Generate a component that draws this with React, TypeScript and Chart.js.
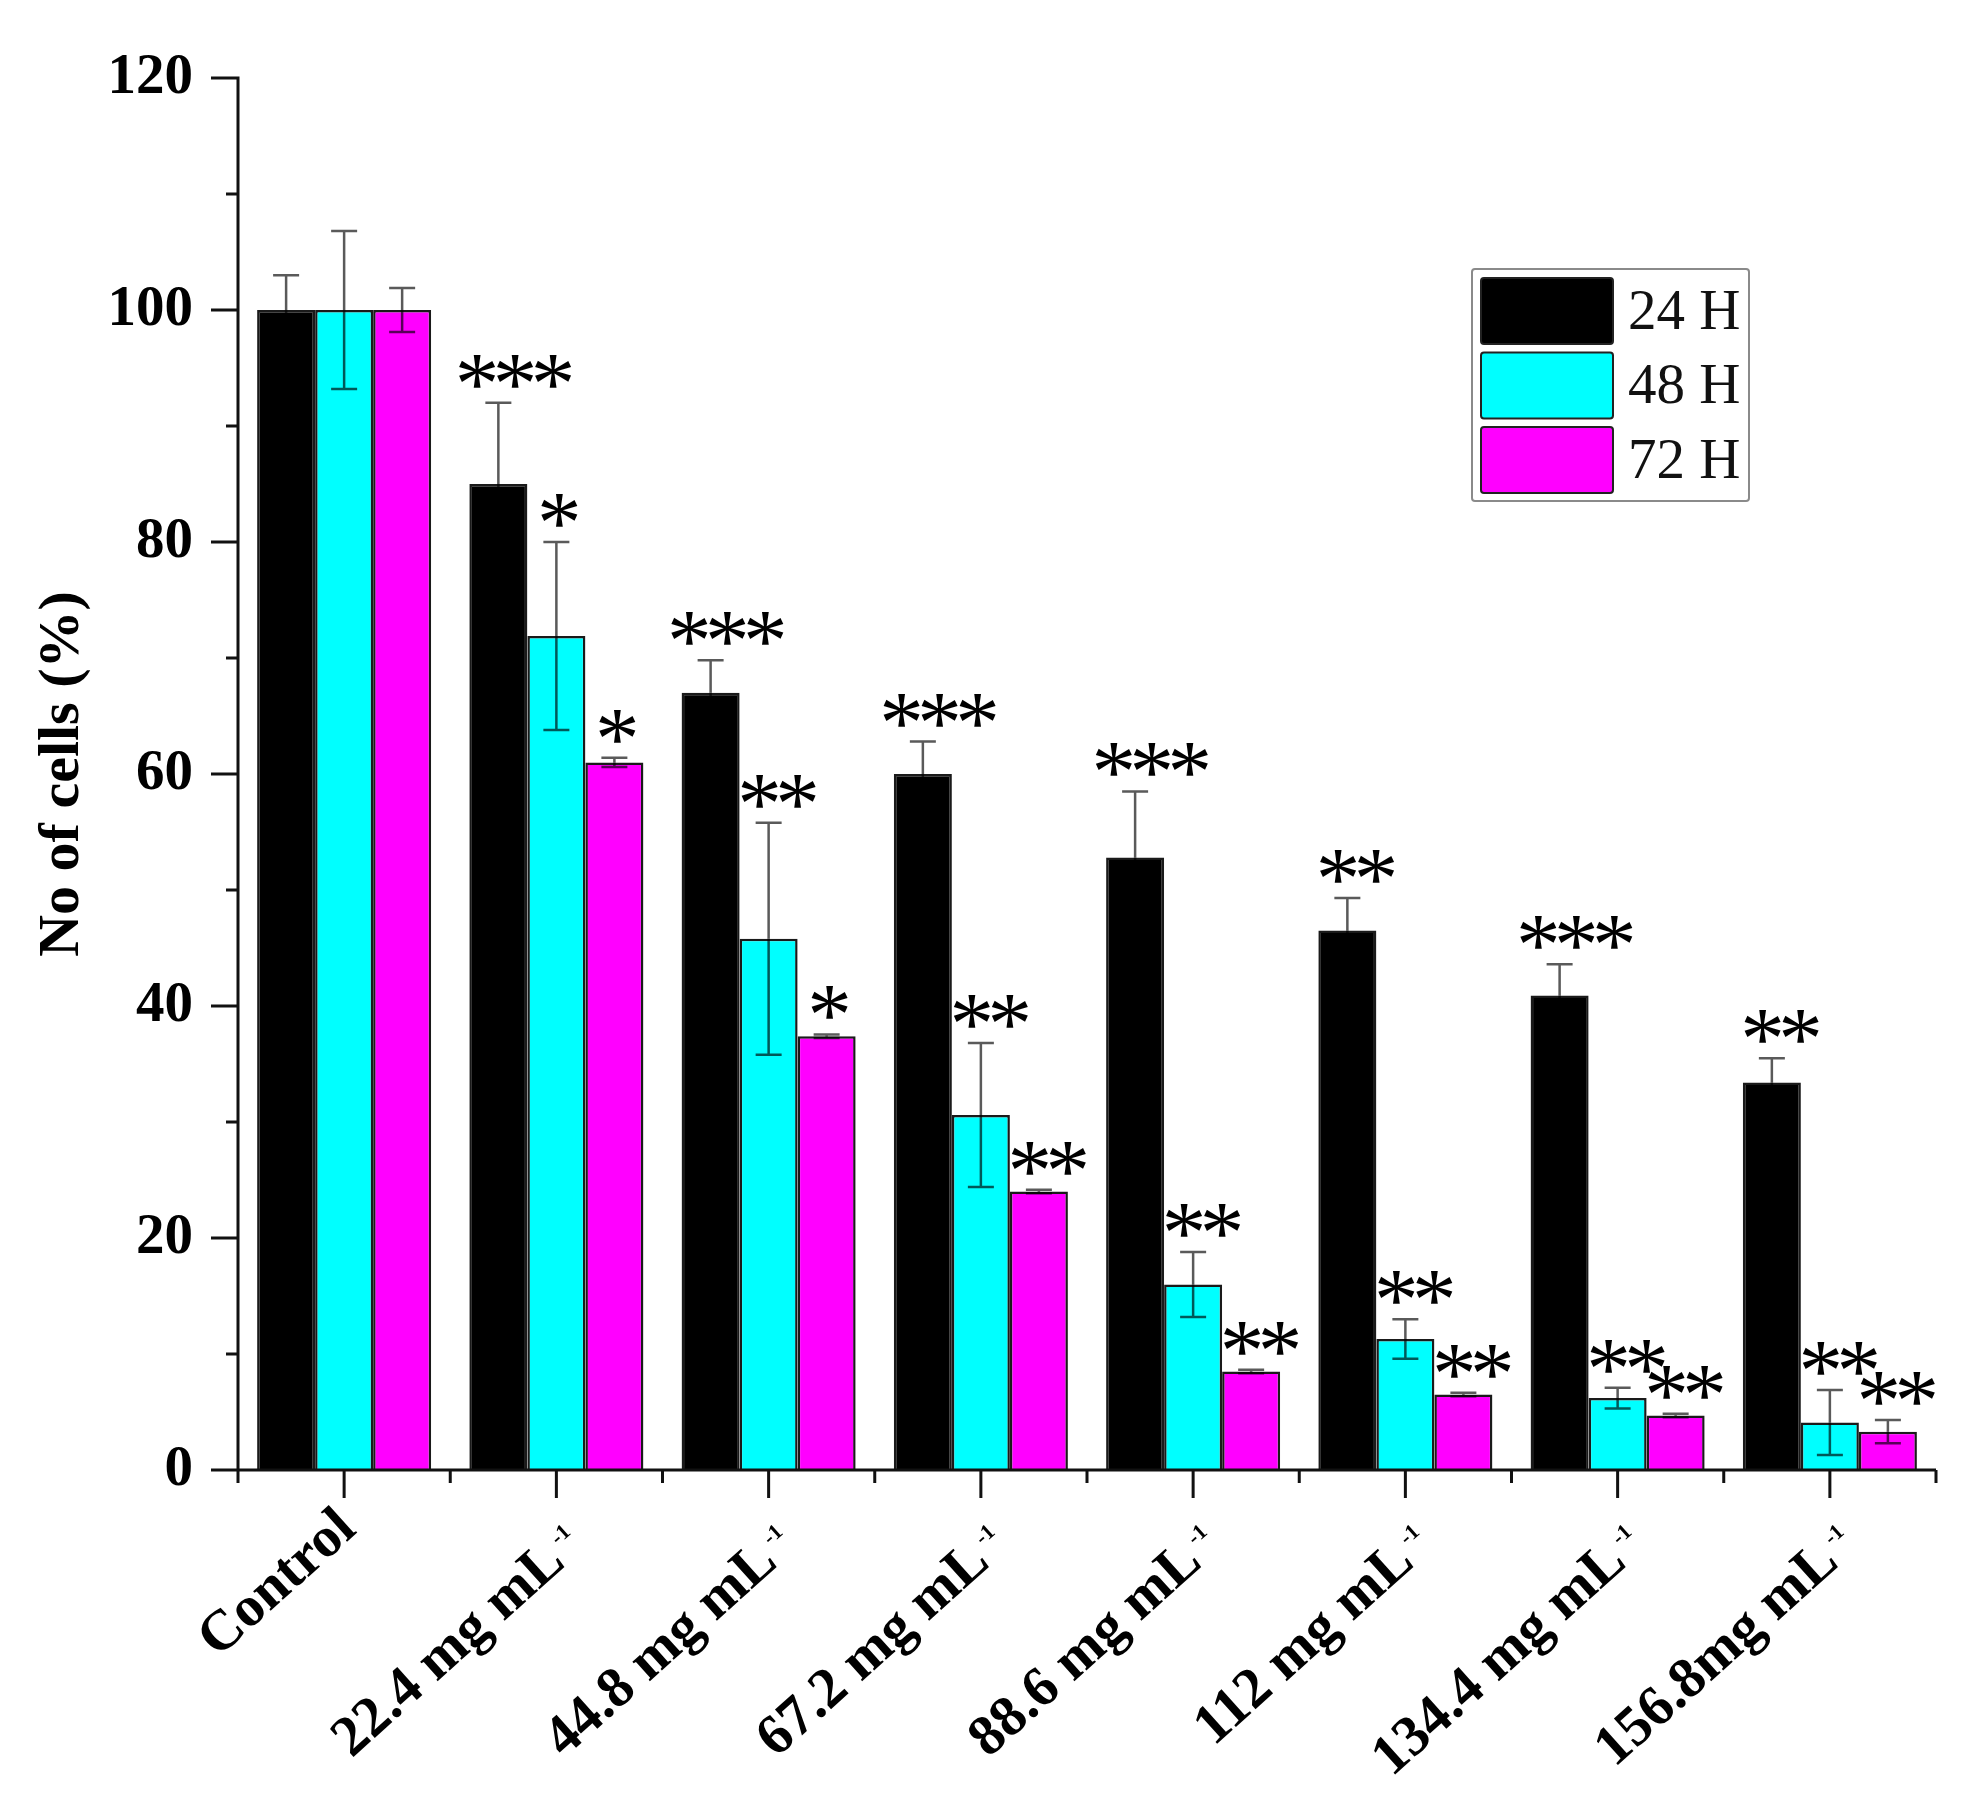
import React, { useEffect, useRef } from 'react';
import { Chart, registerables } from 'chart.js';

Chart.register(...registerables);

// ---------- data ----------
const categories = [
  'Control',
  '22.4 mg mL⁻¹',
  '44.8 mg mL⁻¹',
  '67.2 mg mL⁻¹',
  '88.6 mg mL⁻¹',
  '112 mg mL⁻¹',
  '134.4 mg mL⁻¹',
  '156.8mg mL⁻¹',
];
const seriesLabels = ['24 H', '48 H', '72 H'];
const seriesColors = ['#000000', '#00FFFF', '#FF00FF'];

const values24 = [100, 85.0, 67.0, 60.0, 52.8, 46.5, 40.9, 33.4];
const values48 = [100, 71.9, 45.8, 30.6, 16.0, 11.3, 6.2, 4.1];
const values72 = [100, 61.0, 37.4, 24.0, 8.5, 6.5, 4.7, 3.3];

const errors24 = [3.0, 7.0, 2.8, 2.8, 5.7, 2.8, 2.7, 2.1];
const errors48 = [6.8, 8.1, 10.0, 6.2, 2.8, 1.7, 0.9, 2.8];
const errors72 = [1.9, 0.4, 0.15, 0.15, 0.15, 0.15, 0.15, 1.0];

const stars24 = ['', '***', '***', '***', '***', '**', '***', '**'];
const stars48 = ['', '*', '**', '**', '**', '**', '**', '**'];
const stars72 = ['', '*', '*', '**', '**', '**', '**', '**'];

const yMin = 0;
const yMax = 120;
const yMajorStep = 20;
const yMinorStep = 10;
const yTitle = 'No of cells (%)';

// ---------- styling ----------
const SERIF = "'Liberation Serif', 'Times New Roman', serif";
const STAR_FONT = "'Liberation Serif', 'Times New Roman', serif";
const W = 1966;
const H = 1816;
const LABEL_ANGLE = (42 * Math.PI) / 180;

export default function App() {
  const ref = useRef<HTMLCanvasElement>(null);

  useEffect(() => {
    const canvas = ref.current;
    if (!canvas) return;
    const errs = [errors24, errors48, errors72];
    const stars = [stars24, stars48, stars72];

    const errorPlugin = {
      id: 'errorBarsStars',
      afterDatasetsDraw(chart: any) {
        const ctx = chart.ctx;
        const ys = chart.scales.y;
        ctx.save();
        ctx.font = `100px ${STAR_FONT}`;
        const m0 = ctx.measureText('*');
        const h0 = m0.actualBoundingBoxAscent + m0.actualBoundingBoxDescent;
        const starSize = (100 * 33) / h0;
        ctx.font = `${starSize}px ${STAR_FONT}`;
        const sm = ctx.measureText('*');
        const pitch = 38;
        chart.data.datasets.forEach((ds: any, d: number) => {
          const meta = chart.getDatasetMeta(d);
          meta.data.forEach((bar: any, i: number) => {
            const v = ds.data[i];
            const e = errs[d][i];
            const x = bar.x;
            const yT = ys.getPixelForValue(v + e);
            const yB = ys.getPixelForValue(v - e);
            const yV = ys.getPixelForValue(v);
            const cap = 13;
            ctx.lineWidth = 2.5;
            ctx.strokeStyle = '#5a5a5a';
            ctx.beginPath();
            ctx.moveTo(x, yT);
            ctx.lineTo(x, yV);
            ctx.moveTo(x - cap, yT);
            ctx.lineTo(x + cap, yT);
            ctx.stroke();
            ctx.strokeStyle = 'rgba(0,0,0,0.65)';
            ctx.beginPath();
            ctx.moveTo(x, yV);
            ctx.lineTo(x, yB);
            ctx.moveTo(x - cap, yB);
            ctx.lineTo(x + cap, yB);
            ctx.stroke();

            const s = stars[d][i];
            if (s) {
              const n = s.length;
              const cx = x + 3 + (n - 1) * 7;
              const bottom = yT - 15;
              ctx.font = `${starSize}px ${STAR_FONT}`;
              ctx.fillStyle = '#000';
              ctx.textAlign = 'left';
              ctx.textBaseline = 'alphabetic';
              const gw = sm.actualBoundingBoxRight + sm.actualBoundingBoxLeft;
              for (let k = 0; k < n; k++) {
                const gx = cx + (k - (n - 1) / 2) * pitch;
                const tx = gx - gw / 2 + sm.actualBoundingBoxLeft;
                ctx.fillText('*', tx, bottom - sm.actualBoundingBoxDescent);
              }
            }
          });
        });
        ctx.restore();
      },
    };

    const axesPlugin = {
      id: 'originAxes',
      afterDraw(chart: any) {
        const ctx = chart.ctx;
        const xs = chart.scales.x;
        const ys = chart.scales.y;
        const ca = chart.chartArea;
        const y0 = ys.getPixelForValue(yMin);
        const yTop = ys.getPixelForValue(yMax);
        ctx.save();
        ctx.strokeStyle = '#111';
        ctx.lineWidth = 3;
        ctx.lineCap = 'butt';
        ctx.beginPath();
        ctx.moveTo(ca.left, yTop - 1.5);
        ctx.lineTo(ca.left, y0 + 1.5);
        ctx.moveTo(ca.left - 1.5, y0);
        ctx.lineTo(ca.right, y0);
        for (let v = yMin; v <= yMax + 1e-9; v += yMinorStep) {
          const py = ys.getPixelForValue(v);
          const major = Math.abs(v / yMajorStep - Math.round(v / yMajorStep)) < 1e-6;
          const len = major ? 27 : 12;
          ctx.moveTo(ca.left, py);
          ctx.lineTo(ca.left - len, py);
        }
        const n = chart.data.labels.length;
        for (let i = 0; i < n; i++) {
          const px = xs.getPixelForValue(i);
          ctx.moveTo(px, y0);
          ctx.lineTo(px, y0 + 28);
        }
        for (let i = 0; i <= n; i++) {
          const px = ca.left + ((ca.right - ca.left) * i) / n;
          ctx.moveTo(px, y0);
          ctx.lineTo(px, y0 + 13);
        }
        ctx.stroke();

        // category labels (rotated, with superscript)
        ctx.fillStyle = '#000';
        chart.data.labels.forEach((lab: string, i: number) => {
          const px = xs.getPixelForValue(i);
          let main = lab;
          let sup = '';
          if (lab.endsWith('⁻¹')) {
            main = lab.slice(0, -2);
            sup = '-1';
          }
          ctx.save();
          ctx.translate(px + 14, y0 + 62);
          ctx.rotate(-LABEL_ANGLE);
          ctx.textAlign = 'left';
          ctx.textBaseline = 'alphabetic';
          const base = sup ? 22 : 0;
          ctx.font = `bold 57px ${SERIF}`;
          const wm = ctx.measureText(main).width;
          let ws = 0;
          const gap = 6;
          if (sup) {
            ctx.font = `bold 22px ${SERIF}`;
            ws = ctx.measureText(sup).width + gap;
          }
          ctx.font = `bold 57px ${SERIF}`;
          ctx.fillText(main, -(wm + ws), base);
          if (sup) {
            ctx.font = `bold 22px ${SERIF}`;
            ctx.fillText(sup, -ws + gap, base - 20);
          }
          ctx.restore();
        });
        ctx.restore();
      },
    };

    const legendPlugin = {
      id: 'boxLegend',
      afterDraw(chart: any) {
        const ctx = chart.ctx;
        const ca = chart.chartArea;
        const bx = ca.right - 464;
        const by = ca.top + 191;
        const bw = 277;
        const bh = 232;
        ctx.save();
        ctx.fillStyle = '#fff';
        ctx.strokeStyle = '#8a8a8a';
        ctx.lineWidth = 2;
        ctx.beginPath();
        ctx.roundRect(bx, by, bw, bh, 3);
        ctx.fill();
        ctx.stroke();
        chart.data.datasets.forEach((ds: any, d: number) => {
          const sy = by + 9 + d * 74.5;
          ctx.fillStyle = ds.backgroundColor;
          ctx.strokeStyle = '#222';
          ctx.lineWidth = 2;
          ctx.beginPath();
          ctx.roundRect(bx + 9, sy, 132, 66, 3);
          ctx.fill();
          ctx.stroke();
          ctx.fillStyle = '#111';
          ctx.font = `57px ${SERIF}`;
          ctx.textAlign = 'left';
          ctx.textBaseline = 'middle';
          ctx.fillText(ds.label, bx + 156, sy + 36);
        });
        ctx.restore();
      },
    };

    const chart = new Chart(canvas, {
      type: 'bar',
      data: {
        labels: categories,
        datasets: [values24, values48, values72].map((vals, d) => ({
          label: seriesLabels[d],
          data: vals,
          backgroundColor: seriesColors[d],
          borderColor: '#1a1a1a',
          borderWidth: 2.5,
          categoryPercentage: 0.82,
          barPercentage: 1.0,
        })),
      },
      options: {
        animation: false,
        responsive: false,
        devicePixelRatio: 1,
        layout: { padding: { top: 78, right: 30, left: 0, bottom: 0 } },
        plugins: {
          legend: { display: false },
          tooltip: { enabled: false },
        },
        scales: {
          x: {
            type: 'category',
            offset: true,
            grid: { display: false },
            border: { display: false },
            ticks: { display: false },
            afterFit: (s: any) => {
              s.height = 346;
            },
          },
          y: {
            min: yMin,
            max: yMax,
            grid: {
              display: true,
              drawOnChartArea: false,
              drawTicks: true,
              tickLength: 27,
              tickColor: 'rgba(0,0,0,0)',
            },
            border: { display: false },
            ticks: {
              stepSize: yMajorStep,
              padding: 18,
              color: '#000',
              font: { family: SERIF, size: 57, weight: 'bold' },
            },
            title: {
              display: true,
              text: yTitle,
              color: '#000',
              font: { family: SERIF, size: 58, weight: 'bold' },
              padding: { top: 28, bottom: 0 },
            },
            afterFit: (s: any) => {
              s.width = 238;
            },
          },
        },
      },
      plugins: [errorPlugin, axesPlugin, legendPlugin],
    } as any);

    return () => chart.destroy();
  }, []);

  return (
    <div style={{ position: 'absolute', left: 0, top: 0, width: W, height: H, background: '#fff' }}>
      <canvas ref={ref} width={W} height={H} style={{ width: W, height: H, display: 'block' }} />
    </div>
  );
}
